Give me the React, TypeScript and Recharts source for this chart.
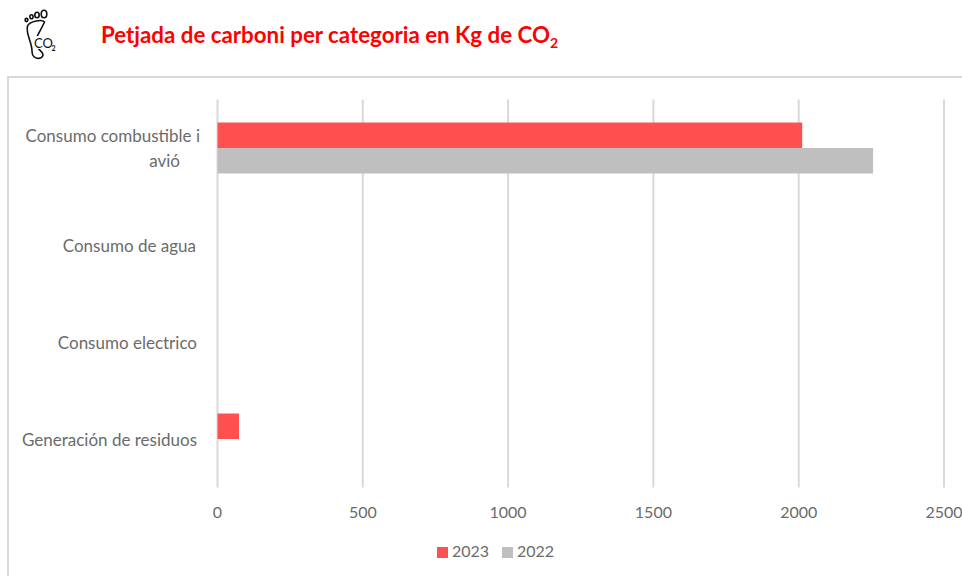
import { BarChart, Bar, XAxis, YAxis, CartesianGrid, Legend } from 'recharts';

const categories = ['Consumo combustible i avió', 'Consumo de agua', 'Consumo electrico', 'Generación de residuos'];
const values2023 = [2012, 0, 0, 74];
const values2022 = [2256, 0, 0, 0];
const xTicks = [0, 500, 1000, 1500, 2000, 2500];

// label lines and their right edge, the wrapped first label is not aligned like the others
const tickLines: Record<string, { text: string; right: number }[]> = {
  'Consumo combustible i avió': [
    { text: 'Consumo combustible i', right: 200 },
    { text: 'avió', right: 180 },
  ],
  'Consumo de agua': [{ text: 'Consumo de agua', right: 196 }],
  'Consumo electrico': [{ text: 'Consumo electrico', right: 197 }],
  'Generación de residuos': [{ text: 'Generación de residuos', right: 197 }],
};

const data = categories.map((name, i) => ({
  name,
  '2023': values2023[i],
  '2022': values2022[i],
}));

const font = 'Lato, sans-serif';
const GREY_TEXT = '#6b6b6b';

const CategoryTick = ({ y, payload }: any) => {
  const lines = tickLines[payload.value] ?? [];
  const startY = y - ((lines.length - 1) * 25) / 2;
  return (
    <g>
      {lines.map((line, i) => (
        <text
          key={line.text}
          x={line.right}
          y={startY + i * 25}
          dy={6.5}
          textAnchor="end"
          fontFamily={font}
          fontSize={17}
          fill={GREY_TEXT}
        >
          {line.text}
        </text>
      ))}
    </g>
  );
};

const FootprintIcon = () => (
  <svg width={40} height={56} viewBox="0 0 40 56" style={{ position: 'absolute', left: 22, top: 8 }}>
    <g fill="none" stroke="#111" strokeWidth={1.6}>
      <ellipse cx={22} cy={6} rx={2.8} ry={3.8} />
      <ellipse cx={15} cy={7} rx={2.2} ry={2.8} />
      <ellipse cx={9.5} cy={8.8} rx={1.6} ry={2} />
      <ellipse cx={4.5} cy={12} rx={1.4} ry={1.6} />
      <path d="M22.5 14 C 20 11, 8 13, 5.5 18 C 3.5 26, 10 34, 10 43 C 10 52, 20 52, 21 47 C 21 43, 13 40, 13 35 C 13 30, 18 24, 22.5 14 Z" />
    </g>
    <rect x={11} y={28} width={22} height={13} fill="#fff" />
    <text x={12} y={40} fontFamily={font} fontSize={13} fill="#111">CO</text>
    <text x={29.5} y={43} fontFamily={font} fontSize={7} fontWeight={700} fill="#111">2</text>
  </svg>
);

const App = () => (
  <div style={{ position: 'absolute', left: 0, top: 0, width: 962, height: 576, overflow: 'hidden', background: '#fff' }}>
    <FootprintIcon />
    <div
      style={{
        position: 'absolute',
        left: 101,
        top: 21,
        fontFamily: font,
        fontSize: 22.3,
        fontWeight: 700,
        color: '#ff0000',
        whiteSpace: 'nowrap',
      }}
    >
      Petjada de carboni per categoria en Kg de CO<sub style={{ fontSize: 14, lineHeight: 0 }}>2</sub>
    </div>
    <div
      style={{
        position: 'absolute',
        left: 7,
        top: 76,
        width: 970,
        height: 520,
        border: '2px solid #d9d9d9',
        boxSizing: 'border-box',
      }}
    />
    <div style={{ position: 'absolute', left: 0, top: 0 }}>
      <BarChart
        width={962}
        height={576}
        layout="vertical"
        data={data}
        barGap={0}
        barSize={25.5}
        margin={{ top: 99.5, right: 18, bottom: 0, left: 0 }}
      >
        <CartesianGrid horizontal={false} stroke="#d9d9d9" strokeWidth={2} />
        <XAxis
          type="number"
          domain={[0, 2500]}
          ticks={xTicks}
          interval={0}
          axisLine={false}
          tickLine={false}
          height={64.5}
          tickMargin={13}
          tick={{ fontFamily: font, fontSize: 16, fill: GREY_TEXT }}
        />
        <YAxis
          type="category"
          dataKey="name"
          width={217.5}
          axisLine={false}
          tickLine={false}
          interval={0}
          tick={CategoryTick}
        />
        <Legend
          iconType="square"
          iconSize={11}
          itemSorter={null}
          wrapperStyle={{ position: 'absolute', left: 425.5, top: 541, width: 150, height: 24, fontFamily: font, fontSize: 16 }}
          formatter={(value: string) => (
            <span style={{ color: GREY_TEXT, marginRight: value === '2023' ? 3 : 0 }}>{value}</span>
          )}
        />
        <Bar dataKey="2023" fill="#ff5050" isAnimationActive={false} />
        <Bar dataKey="2022" fill="#bfbfbf" isAnimationActive={false} />
      </BarChart>
    </div>
  </div>
);

export default App;
